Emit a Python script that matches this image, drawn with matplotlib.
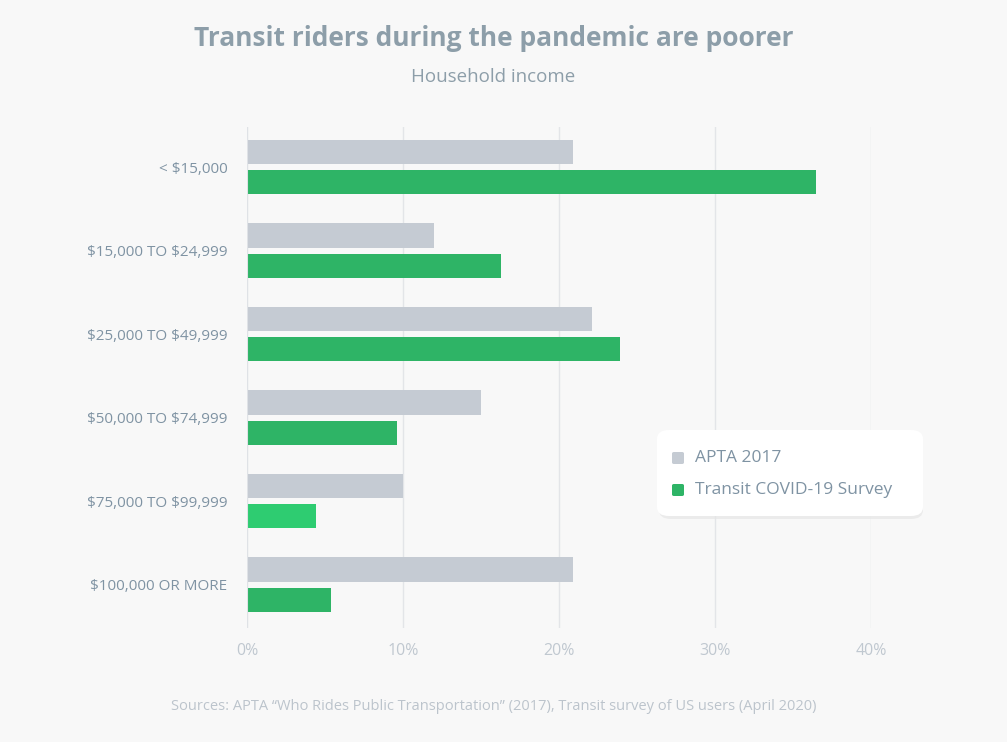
import matplotlib
matplotlib.use("Agg")
import matplotlib.pyplot as plt
from matplotlib.patches import FancyBboxPatch
import numpy as np

categories = ["< $15,000", "$15,000 TO $24,999", "$25,000 TO $49,999",
              "$50,000 TO $74,999", "$75,000 TO $99,999", "$100,000 OR MORE"]
apta = [20.9, 12.0, 22.1, 15.0, 10.0, 20.9]
covid = [36.5, 16.3, 23.9, 9.6, 4.4, 5.4]
ticks = [0, 10, 20, 30, 40]

plt.rcParams['font.family'] = ['Open Sans', 'DejaVu Sans']
plt.rcParams['text.parse_math'] = False
bg = "#f8f8f8"
fig = plt.figure(figsize=(10.07, 7.42), dpi=100, facecolor=bg)
ax = fig.add_axes([247/1007, 1-628/742, (871-247)/1007, (628-127)/742], facecolor=bg)

y = np.arange(len(categories))
gcol = ["#2eb466"]*6
gcol[4] = "#2ecc71"
ax.barh(y-0.18, apta, height=0.29, color="#c5cbd3", zorder=3)
ax.barh(y+0.18, covid, height=0.29, color=gcol, zorder=3)
ax.set_xlim(0, 40)
ax.set_ylim(5.52, -0.48)
ax.set_xticks(ticks)
ax.set_xticklabels([f"{t}%" for t in ticks], color="#c0c8d0", fontsize=11.5)
ax.set_yticks(y)
ax.set_yticklabels(categories, color="#7f93a3", fontsize=11)
ax.tick_params(length=0, pad=14)
ax.tick_params(axis='x', pad=11)
ax.grid(axis='x', color="#e3e5e8", lw=1, zorder=0)
for s in ax.spines.values():
    s.set_visible(False)
ax.axvline(0, color="#dfe2e6", lw=1.5, zorder=4)

fig.text(0.49, 1-38/742, "Transit riders during the pandemic are poorer", ha='center', va='center',
         fontsize=19, fontweight='bold', color="#8d9ea9")
fig.text(0.49, 1-77/742, "Household income", ha='center', va='center', fontsize=13.5, color="#8d9ea9")
fig.text(0.49, 1-706/742, "Sources: APTA \u201cWho Rides Public Transportation\u201d (2017), Transit survey of US users (April 2020)",
         ha='center', va='center', fontsize=10.5, color="#bcc4cc")

sh = FancyBboxPatch((659/1007, 1-519/742), 264/1007, 84/742, boxstyle="round,pad=0,rounding_size=0.012",
                    transform=fig.transFigure, facecolor="#e6e6e6", edgecolor="none", alpha=0.7)
box = FancyBboxPatch((657/1007, 1-516/742), 266/1007, 86/742, boxstyle="round,pad=0,rounding_size=0.012",
                     transform=fig.transFigure, facecolor="white", edgecolor="none")
fig.patches.extend([sh, box])
for i, (lab, c) in enumerate([("APTA 2017", "#c5cbd3"), ("Transit COVID-19 Survey", "#2eb466")]):
    yy = 1-(458+32*i)/742
    fig.patches.append(FancyBboxPatch((672/1007, yy-6/742), 12/1007, 12/742,
                       boxstyle="round,pad=0,rounding_size=0.002", transform=fig.transFigure,
                       facecolor=c, edgecolor="none"))
    fig.text(695/1007, yy, lab, va='center', fontsize=12.5, color="#7f93a3")

fig.savefig("out.png", dpi=100, facecolor=bg)
